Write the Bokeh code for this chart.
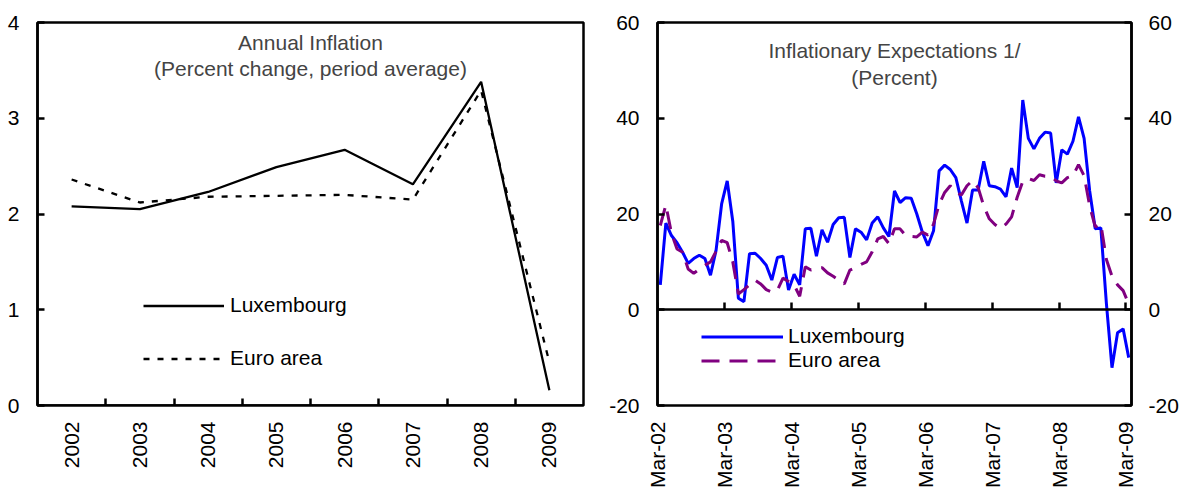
import math

from bokeh.plotting import figure
from bokeh.layouts import row
from bokeh.models import (FixedTicker, LinearAxis, Legend, LegendItem, Label, Range1d,
                          CustomLabelingPolicy)
from bokeh.embed import file_html
from bokeh.resources import INLINE

# left panel: annual inflation (percent change, period average)
years = ["2002", "2003", "2004", "2005", "2006", "2007", "2008", "2009"]
lux_annual = [2.08, 2.05, 2.23, 2.49, 2.67, 2.31, 3.38, 0.16]
euro_annual = [2.36, 2.12, 2.18, 2.19, 2.20, 2.15, 3.29, 0.45]

# right panel: inflationary expectations, monthly Mar-02 .. Mar-09
mar_labels = ["Mar-02", "Mar-03", "Mar-04", "Mar-05", "Mar-06", "Mar-07", "Mar-08", "Mar-09"]
lux_expect = [
    5.2, 18.1, 15.5, 14.0, 12.0, 9.7, 10.7, 11.4, 10.7, 7.2,
    12.4, 22.1, 26.9, 18.5, 2.4, 1.7, 11.7, 11.8, 10.7, 9.3,
    6.2, 10.9, 11.2, 4.1, 7.4, 5.2, 16.9, 17.0, 11.2, 16.7,
    14.1, 17.8, 19.2, 19.3, 10.9, 16.9, 16.2, 14.6, 18.1, 19.4,
    17.1, 15.3, 24.8, 22.4, 23.4, 23.3, 20.0, 16.2, 13.4, 16.5,
    29.0, 30.2, 29.3, 27.6, 22.7, 18.1, 25.0, 25.0, 31.0, 25.9,
    25.7, 25.2, 23.6, 29.6, 25.5, 43.8, 35.8, 33.6, 35.8, 37.1,
    36.9, 26.5, 33.4, 32.5, 35.2, 40.3, 35.8, 24.8, 16.9, 17.1,
    1.3, -12.1, -4.8, -4.0, -10.0,
]
euro_expect = [
    17.6, 21.9, 16.0, 12.7, 12.0, 8.5, 7.6, 8.5, 9.3, 10.0,
    12.2, 14.5, 14.0, 10.0, 3.3, 4.2, 5.2, 6.2, 5.4, 4.2,
    3.7, 4.1, 6.6, 5.9, 5.2, 2.8, 9.0, 8.3, 8.6, 8.8,
    7.7, 7.0, 6.2, 5.4, 8.3, 8.8, 9.5, 10.0, 12.1, 14.8,
    15.3, 13.8, 16.9, 16.9, 15.5, 15.3, 15.2, 16.2, 15.6, 17.9,
    22.0, 24.5, 25.9, 24.5, 24.0, 25.9, 27.0, 25.5, 21.7, 19.0,
    17.8, 17.0, 17.9, 19.4, 23.5, 26.8, 27.4, 27.0, 28.2, 27.9,
    27.9, 26.9, 26.5, 27.6, 28.0, 30.3, 28.0, 21.7, 17.3, 17.9,
    10.5, 7.0, 5.2, 4.0, 1.2,
]

FONT = "Liberation Sans"
FS = "21px"


def frame_style(p):
    p.grid.visible = False
    p.outline_line_color = "black"
    p.outline_line_width = 2.5
    p.background_fill_color = "white"
    p.border_fill_color = "white"


def y_axis_style(ax, ticks, standoff):
    ax.ticker = FixedTicker(ticks=ticks)
    ax.major_label_overrides = {t: str(t) for t in ticks}  # plain hyphen for "-20"
    ax.major_tick_in = 7
    ax.major_tick_out = 0
    ax.major_tick_line_width = 2.5
    ax.minor_tick_line_color = None
    ax.axis_line_width = 2.5
    ax.major_label_text_font = FONT
    ax.major_label_text_font_size = FS
    ax.major_label_text_color = "black"
    ax.major_label_standoff = standoff


def label_axis_style(ax, ticks, labels):
    ax.ticker = FixedTicker(ticks=ticks)
    ax.major_label_overrides = {t: s for t, s in zip(ticks, labels)}
    ax.major_tick_in = 0
    ax.major_tick_out = 0
    ax.minor_tick_line_color = None
    ax.axis_line_color = None
    ax.major_label_orientation = math.pi / 2
    ax.major_label_text_font = FONT
    ax.major_label_text_font_size = FS
    ax.major_label_text_color = "black"
    ax.major_label_standoff = 16


def tick_axis(ticks):
    # axis drawn on the zero line, ticks pointing up, labels suppressed
    ax = LinearAxis(ticker=FixedTicker(ticks=ticks), fixed_location=0)
    ax.major_tick_in = 0
    ax.major_tick_out = 7
    ax.major_tick_line_width = 2.5
    ax.minor_tick_line_color = None
    ax.axis_line_width = 2.5
    ax.major_label_text_font_size = "0px"
    ax.major_label_standoff = 0
    ax.major_label_policy = CustomLabelingPolicy(code="return []")
    return ax


def one_item_legend(label, renderer, loc, glyph_w, standoff):
    return Legend(items=[LegendItem(label=label, renderers=[renderer])],
                  location=loc, glyph_width=glyph_w, glyph_height=19, label_height=19,
                  label_standoff=standoff, padding=0, margin=0,
                  border_line_color=None, background_fill_alpha=0,
                  label_text_font=FONT, label_text_font_size=FS,
                  label_text_color="black")


# ---------------- left panel ----------------
n_years = len(years)
p1 = figure(width=599, height=491, x_range=Range1d(-0.5, n_years - 0.5),
            y_range=Range1d(0, 4), output_backend="svg", toolbar_location=None,
            min_border_left=37, min_border_right=16, min_border_top=22,
            min_border_bottom=85)
frame_style(p1)

xs1 = list(range(n_years))
lux1 = p1.line(xs1, lux_annual, line_color="black", line_width=2.3)
euro1 = p1.line(xs1, euro_annual, line_color="black", line_width=2.3, line_dash="6 8")

y_axis_style(p1.yaxis[0], [0, 1, 2, 3, 4], 18)
label_axis_style(p1.xaxis[0], xs1, years)
p1.add_layout(tick_axis([i + 0.5 for i in range(n_years - 1)]), "above")

p1.add_layout(Label(x=(n_years - 1) / 2, y=3.79, text="Annual Inflation",
                    text_align="center", text_baseline="middle",
                    text_font=FONT, text_font_size=FS))
p1.add_layout(Label(x=(n_years - 1) / 2, y=3.52, text="(Percent change, period average)",
                    text_align="center", text_baseline="middle",
                    text_font=FONT, text_font_size=FS))

p1.add_layout(one_item_legend("Luxembourg", lux1, (106, 88), 81, 6))
p1.add_layout(one_item_legend("Euro area", euro1, (106, 35), 81, 6))

# ---------------- right panel ----------------
n_months = len(lux_expect)
p2 = figure(width=584, height=491, x_range=Range1d(0, n_months),
            y_range=Range1d(-20, 60), output_backend="svg", toolbar_location=None,
            min_border_left=58, min_border_right=52, min_border_top=22,
            min_border_bottom=85)
frame_style(p2)

xs2 = [i + 0.5 for i in range(n_months)]
lux2 = p2.line(xs2, lux_expect, line_color="#0000FF", line_width=3)
euro2 = p2.line(xs2, euro_expect, line_color="#800080", line_width=3, line_dash="18 10")

mar_ticks = [12 * k for k in range(len(mar_labels))]
y_ticks2 = [-20, 0, 20, 40, 60]
y_axis_style(p2.yaxis[0], y_ticks2, 18)
right_ax = LinearAxis()
y_axis_style(right_ax, y_ticks2, 17)
p2.add_layout(right_ax, "right")
label_axis_style(p2.xaxis[0], mar_ticks, mar_labels)
p2.add_layout(tick_axis(mar_ticks), "above")

p2.add_layout(Label(x=n_months / 2, y=54.2, text="Inflationary Expectations 1/",
                    text_align="center", text_baseline="middle",
                    text_font=FONT, text_font_size=FS))
p2.add_layout(Label(x=n_months / 2, y=48.5, text="(Percent)",
                    text_align="center", text_baseline="middle",
                    text_font=FONT, text_font_size=FS))

p2.add_layout(one_item_legend("Luxembourg", lux2, (44, 57), 82, 5))
p2.add_layout(one_item_legend("Euro area", euro2, (44, 33), 82, 5))

layout = row(p1, p2)
open("out.html", "w").write(file_html(layout, INLINE))
